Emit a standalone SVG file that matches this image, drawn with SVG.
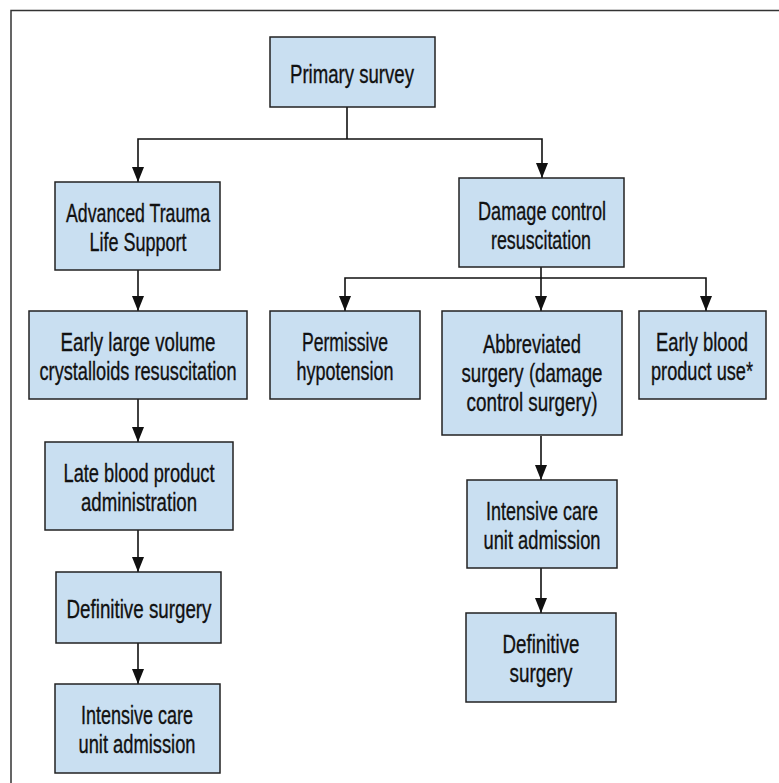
<svg xmlns="http://www.w3.org/2000/svg" width="779" height="783" viewBox="0 0 779 783">
<style>
.box{fill:#c9dff1;stroke:#222;stroke-width:1.5}
.t{font-family:"Liberation Sans",Arial,sans-serif;font-size:26px;fill:#111;stroke:#111;stroke-width:0.35;text-anchor:middle}
.c{fill:none;stroke:#111;stroke-width:1.6}
</style>
<defs>
<marker id="ah" markerUnits="userSpaceOnUse" markerWidth="15" markerHeight="12" refX="15" refY="6" orient="auto">
<path d="M0,0 L15,6 L0,12 z" fill="#111"/>
</marker>
</defs>
<rect x="0" y="0" width="779" height="783" fill="#fff"/>
<path d="M11,783 V10.5 H779" fill="none" stroke="#333" stroke-width="1.5"/>
<g id="connectors">
<path class="c" d="M347,107 V139"/>
<path class="c" d="M347,139 H138 V182" marker-end="url(#ah)"/>
<path class="c" d="M347,139 H542 V178" marker-end="url(#ah)"/>
<path class="c" d="M541,267 V278"/>
<path class="c" d="M541,278 H345 V311" marker-end="url(#ah)"/>
<path class="c" d="M541,278 V311" marker-end="url(#ah)"/>
<path class="c" d="M541,278 H706 V311" marker-end="url(#ah)"/>
<path class="c" d="M138,270 V311" marker-end="url(#ah)"/>
<path class="c" d="M138,399 V442" marker-end="url(#ah)"/>
<path class="c" d="M138,530 V572" marker-end="url(#ah)"/>
<path class="c" d="M138,643 V684" marker-end="url(#ah)"/>
<path class="c" d="M541,436 V480" marker-end="url(#ah)"/>
<path class="c" d="M541,568 V613" marker-end="url(#ah)"/>
</g>
<g id="primary">
<rect class="box" x="270" y="37" width="165" height="70"/>
<text class="t" x="352" y="83" textLength="124" lengthAdjust="spacingAndGlyphs">Primary survey</text>
</g>
<g id="atls">
<rect class="box" x="55" y="182" width="165" height="88"/>
<text class="t" x="138" y="222" textLength="144" lengthAdjust="spacingAndGlyphs">Advanced Trauma</text>
<text class="t" x="138" y="251" textLength="97" lengthAdjust="spacingAndGlyphs">Life Support</text>
</g>
<g id="dcr">
<rect class="box" x="459" y="178" width="165" height="89"/>
<text class="t" x="542" y="220" textLength="128" lengthAdjust="spacingAndGlyphs">Damage control</text>
<text class="t" x="541" y="249" textLength="100" lengthAdjust="spacingAndGlyphs">resuscitation</text>
</g>
<g id="early-crystalloids">
<rect class="box" x="29" y="311" width="218" height="88"/>
<text class="t" x="138" y="351" textLength="155" lengthAdjust="spacingAndGlyphs">Early large volume</text>
<text class="t" x="138" y="380" textLength="197" lengthAdjust="spacingAndGlyphs">crystalloids resuscitation</text>
</g>
<g id="permissive">
<rect class="box" x="270" y="311" width="150" height="88"/>
<text class="t" x="345" y="351" textLength="86" lengthAdjust="spacingAndGlyphs">Permissive</text>
<text class="t" x="345" y="380" textLength="97" lengthAdjust="spacingAndGlyphs">hypotension</text>
</g>
<g id="abbreviated">
<rect class="box" x="442" y="311" width="180" height="124"/>
<text class="t" x="532" y="353" textLength="98" lengthAdjust="spacingAndGlyphs">Abbreviated</text>
<text class="t" x="532" y="382" textLength="141" lengthAdjust="spacingAndGlyphs">surgery (damage</text>
<text class="t" x="532" y="411" textLength="131" lengthAdjust="spacingAndGlyphs">control surgery)</text>
</g>
<g id="early-blood">
<rect class="box" x="639" y="311" width="127" height="88"/>
<text class="t" x="702" y="351" textLength="92" lengthAdjust="spacingAndGlyphs">Early blood</text>
<text class="t" x="702" y="380" textLength="102" lengthAdjust="spacingAndGlyphs">product use*</text>
</g>
<g id="late-blood">
<rect class="box" x="45" y="442" width="188" height="88"/>
<text class="t" x="139" y="482" textLength="151" lengthAdjust="spacingAndGlyphs">Late blood product</text>
<text class="t" x="139" y="511" textLength="116" lengthAdjust="spacingAndGlyphs">administration</text>
</g>
<g id="definitive-left">
<rect class="box" x="56" y="572" width="165" height="71"/>
<text class="t" x="139" y="618" textLength="145" lengthAdjust="spacingAndGlyphs">Definitive surgery</text>
</g>
<g id="icu-left">
<rect class="box" x="55" y="684" width="165" height="89"/>
<text class="t" x="137" y="724" textLength="112" lengthAdjust="spacingAndGlyphs">Intensive care</text>
<text class="t" x="137" y="753" textLength="117" lengthAdjust="spacingAndGlyphs">unit admission</text>
</g>
<g id="icu-right">
<rect class="box" x="467" y="480" width="150" height="88"/>
<text class="t" x="542" y="520" textLength="112" lengthAdjust="spacingAndGlyphs">Intensive care</text>
<text class="t" x="542" y="549" textLength="117" lengthAdjust="spacingAndGlyphs">unit admission</text>
</g>
<g id="definitive-right">
<rect class="box" x="466" y="613" width="150" height="89"/>
<text class="t" x="541" y="653" textLength="77" lengthAdjust="spacingAndGlyphs">Definitive</text>
<text class="t" x="541" y="682" textLength="63" lengthAdjust="spacingAndGlyphs">surgery</text>
</g>
</svg>
